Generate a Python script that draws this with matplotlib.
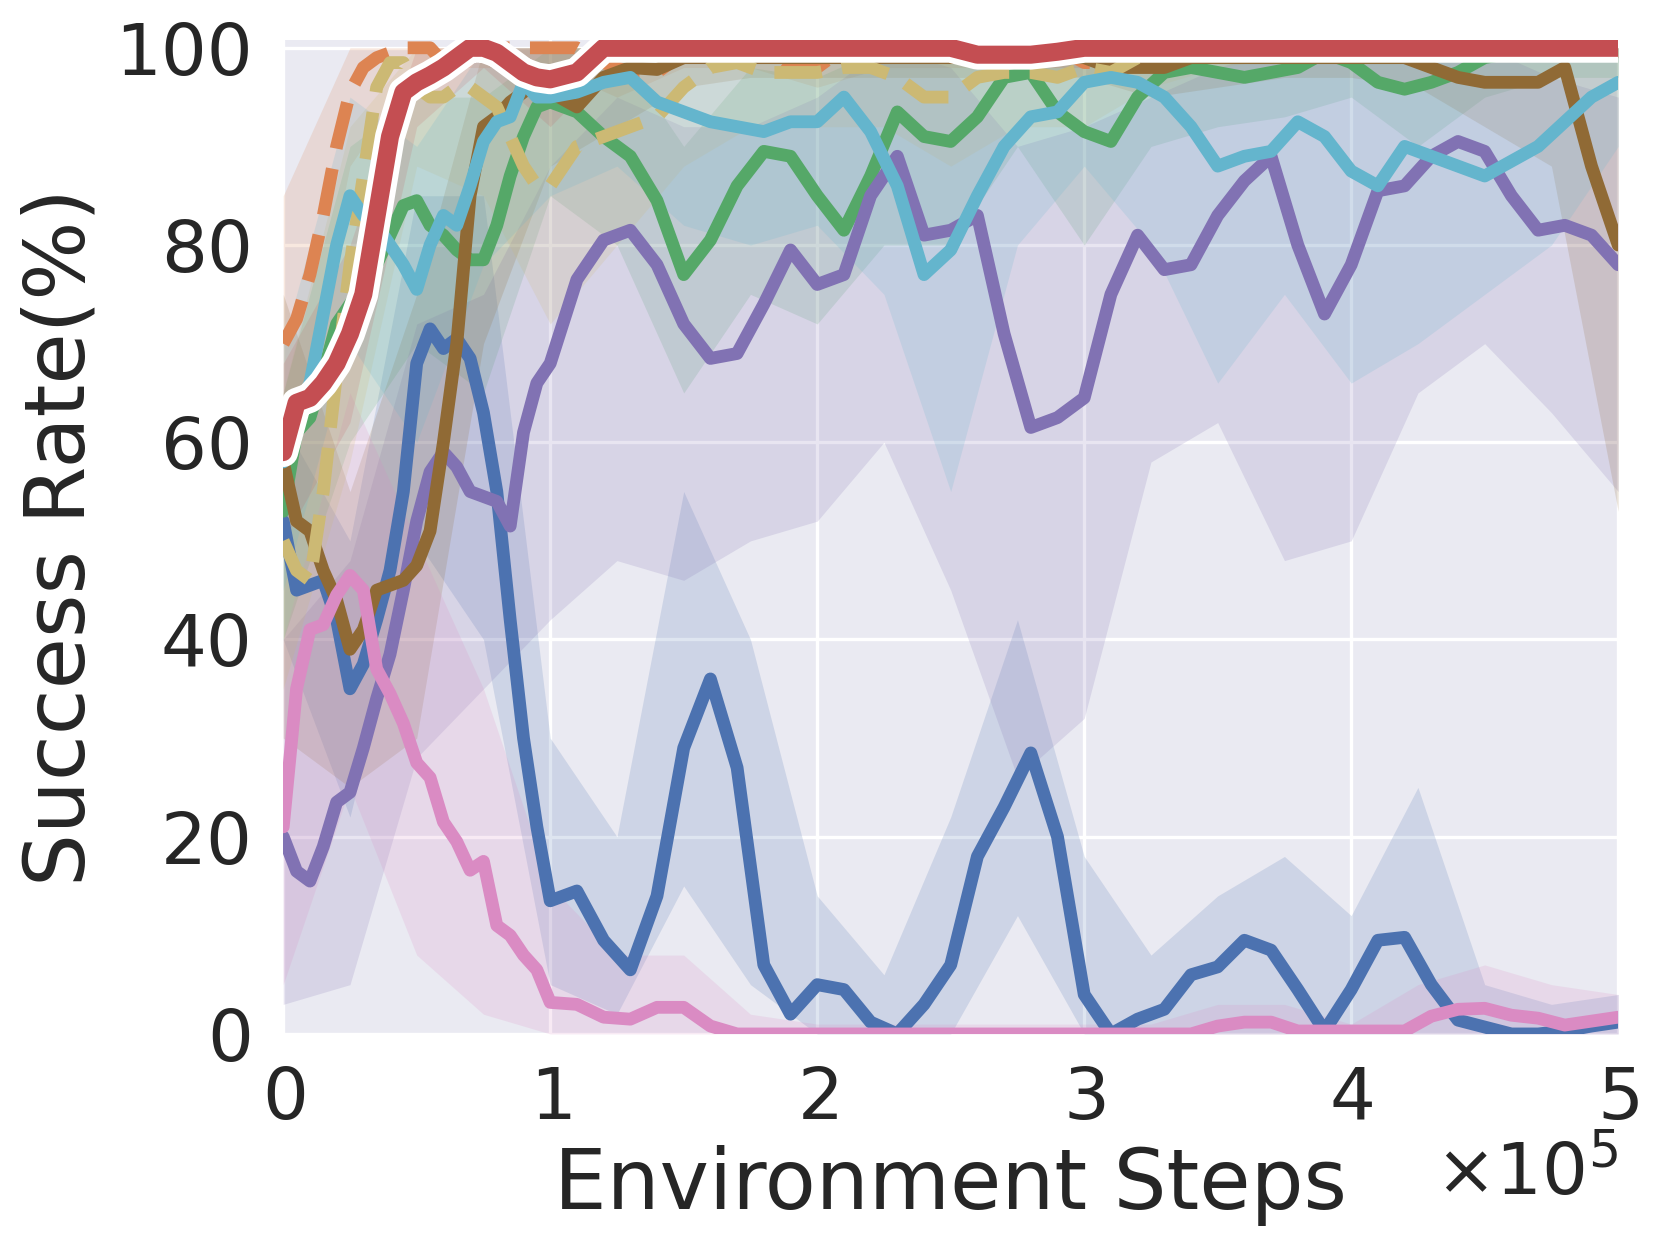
import numpy as np
import matplotlib
matplotlib.use('Agg')
import matplotlib.pyplot as plt
import matplotlib.patheffects as pe

plt.style.use('seaborn-v0_8-darkgrid')
plt.rcParams['font.family'] = 'DejaVu Sans'
plt.rcParams['text.color'] = '#262626'
plt.rcParams['axes.labelcolor'] = '#262626'
plt.rcParams['xtick.color'] = '#262626'
plt.rcParams['ytick.color'] = '#262626'
plt.rcParams['lines.solid_joinstyle'] = 'round'
plt.rcParams['lines.dash_joinstyle'] = 'round'

# x grid: 5k steps up to 1e5, then 10k steps
steps = np.concatenate([np.arange(0, 100000, 5000), np.arange(100000, 500001, 10000)])
band_steps = np.arange(0, 500001, 25000)

red = [59, 64, 64.5, 66, 68, 71, 75, 83, 91, 95.5,
       96.5, 97.2, 98, 99, 100, 100, 99.5, 98.5, 97.5, 97,
       96.8, 97.5, 100, 100, 100, 100, 100, 100, 100, 100,
       100, 100, 100, 100, 100, 100, 99.3, 99.3, 99.3, 99.6,
       100, 100, 100, 100, 100, 100, 100, 100, 100, 100,
       100, 100, 100, 100, 100, 100, 100, 100, 100, 100,
       100]
orange = [70, 72.5, 77, 83, 90, 95.5, 98, 99, 99.5, 100,
          100, 100, 98.5, 98.5, 100, 100, 100, 100, 100, 100,
          100, 100, 98.5, 97.5, 97.5, 99.5, 100, 100, 100, 98,
          98, 100, 100, 100, 100, 100, 100, 100, 100, 100,
          98.5, 98.5, 100, 100, 100, 100, 100, 100, 100, 100,
          100, 100, 100, 100, 100, 100, 100, 100, 100, 100,
          100]
khaki = [50, 47, 46, 55, 67, 78, 87, 96, 98.5, 98.5,
         96, 95, 95, 96, 96, 95, 94, 91, 88, 86,
         86, 90, 91, 92, 93, 96, 98, 98.5, 97.5, 97.5,
         97.5, 98, 98, 97, 95, 95, 97, 97.5, 97.5, 97,
         98, 97.5, 99, 100, 100, 100, 100, 100, 100, 100,
         100, 100, 100, 100, 100, 100, 100, 100, 100, 100,
         100]
brown = [58, 52, 51, 47, 44, 39, 41, 45, 45.5, 46,
         47.5, 51, 60, 70, 85, 92, 93, 94.5, 95.5, 97.5,
         95.5, 94, 97, 98, 97.8, 99, 99, 99, 99, 99,
         99, 99, 99, 99, 99, 99, 99, 99, 99, 99,
         99, 98, 98, 98, 99, 99, 99, 99, 99, 99,
         99, 99, 99, 98, 97, 96.5, 96.5, 96.5, 98, 88,
         80]
green = [53, 61, 62.5, 67, 72, 74, 76, 78, 81, 84,
         84.5, 82, 81, 79.5, 78.5, 78.5, 82, 87, 91, 94,
         94.5, 93.5, 91, 89, 84.5, 77, 80.5, 86, 89.5, 89,
         85, 81.5, 87, 93.5, 91, 90.5, 93, 97, 97.5, 93.5,
         91.5, 90.5, 95, 97.5, 98, 97.5, 97, 97.5, 98, 99.5,
         98.5, 96.5, 95.8, 96.5, 97.5, 99, 99.5, 99.5, 99.5, 99.5,
         99.5]
cyan = [58, 63, 66, 73, 80, 85, 83, 82, 80, 78,
        75.5, 80, 83, 82, 86, 90.5, 92.5, 93, 96.5, 95,
        95, 95.5, 96.5, 97, 94.5, 93.5, 92.5, 92, 91.5, 92.5,
        92.5, 95, 91.5, 86, 77, 79.5, 85, 90, 93, 93.5,
        96.5, 97, 96.5, 95, 92, 88, 89, 89.5, 92.5, 91,
        87.5, 86, 90, 89, 88, 87, 88.5, 90, 92.5, 95,
        96.5]
purple = [20, 16.5, 15.5, 19, 23.5, 24.5, 29, 34, 38.5, 45,
          52, 57, 59, 57.5, 55, 54.5, 54, 51.5, 61, 66,
          68, 76.5, 80.5, 81.5, 78, 72, 68.5, 69, 74, 79.5,
          76, 77, 85, 89, 81, 81.5, 83, 71, 61.5, 62.5,
          64.5, 75, 81, 77.5, 78, 83, 86.5, 89, 80, 73,
          78, 85.5, 86, 89, 90.5, 89.5, 85, 81.5, 82, 81,
          78]
blue = [52, 45, 45.5, 46, 42, 35, 37.5, 42, 47, 55,
        68, 71.5, 69.5, 70.5, 68.5, 63, 55, 42, 30, 21,
        13.5, 14.5, 9.5, 6.5, 14, 29, 36, 27, 7, 2,
        5, 4.5, 1.2, 0, 3, 7, 18, 23, 28.5, 20,
        4, 0, 1.5, 2.5, 6, 6.8, 9.5, 8.5, 4.5, 0.3,
        4.5, 9.5, 9.8, 5, 1.4, 0.7, 0, 0, 0.3, 0.8,
        1.2]
pink = [21, 35, 41, 41.5, 44.5, 46.5, 45, 37, 34.5, 31.5,
        27.5, 26, 21.5, 19.5, 16.6, 17.5, 11, 10, 8, 6.5,
        3.2, 3, 1.7, 1.5, 2.7, 2.7, 0.8, 0, 0, 0,
        0, 0, 0, 0, 0, 0, 0, 0, 0, 0,
        0, 0, 0, 0, 0, 0.8, 1.2, 1.2, 0.3, 0.3,
        0.3, 0.3, 0.3, 1.8, 2.5, 2.6, 1.9, 1.6, 0.9, 1.3,
        1.7]

# shaded bands (every 25k steps)
red_lo = [50, 62, 92, 98, 92, 99, 99, 99, 99, 99, 99, 98, 98, 99, 99, 99, 99, 99, 99, 99, 99]
red_hi = [68, 80, 100, 100, 100, 100, 100, 100, 100, 100, 100, 100, 100, 100, 100, 100, 100, 100, 100, 100, 100]
orange_lo = [55, 88, 98, 98, 98, 95, 98, 98, 96, 98, 98, 98, 97, 98, 99, 99, 99, 99, 99, 99, 99]
orange_hi = [85, 100, 100, 100, 100, 100, 100, 100, 100, 100, 100, 100, 100, 100, 100, 100, 100, 100, 100, 100, 100]
khaki_lo = [35, 58, 88, 85, 72, 80, 88, 92, 92, 92, 88, 92, 92, 96, 98, 99, 99, 99, 99, 99, 99]
khaki_hi = [65, 92, 100, 100, 100, 100, 100, 100, 100, 100, 100, 100, 100, 100, 100, 100, 100, 100, 100, 100, 100]
brown_lo = [30, 25, 30, 70, 88, 92, 96, 97, 97, 97, 97, 97, 97, 95, 96, 97, 97, 96, 92, 88, 53]
brown_hi = [75, 55, 75, 100, 100, 100, 100, 100, 100, 100, 100, 100, 100, 100, 100, 100, 100, 100, 100, 100, 100]
green_lo = [40, 60, 70, 65, 85, 80, 65, 75, 72, 80, 80, 90, 80, 90, 92, 93, 95, 90, 95, 97, 97]
green_hi = [65, 90, 95, 95, 100, 100, 90, 98, 97, 100, 100, 100, 100, 100, 100, 100, 100, 100, 100, 100, 100]
cyan_lo = [45, 70, 60, 78, 85, 88, 82, 80, 82, 75, 55, 80, 88, 80, 66, 75, 66, 70, 75, 80, 90]
cyan_hi = [70, 95, 90, 100, 100, 100, 100, 100, 100, 100, 100, 100, 100, 100, 100, 100, 100, 100, 100, 100, 100]
purple_lo = [3, 5, 28, 35, 42, 48, 46, 50, 52, 60, 45, 26, 32, 58, 62, 48, 50, 65, 70, 63, 55]
purple_hi = [40, 48, 72, 75, 88, 95, 92, 92, 95, 100, 98, 90, 92, 95, 98, 100, 98, 100, 100, 97, 95]
blue_lo = [40, 22, 50, 40, 5, 2, 15, 5, 0, 0, 0, 12, 0, 0, 0, 0, 0, 0, 0, 0, 0]
blue_hi = [62, 50, 85, 85, 30, 20, 55, 40, 14, 6, 22, 42, 18, 8, 14, 18, 12, 25, 5, 3, 4]
pink_lo = [5, 25, 8, 2, 0, 0, 0, 0, 0, 0, 0, 0, 0, 0, 0, 0, 0, 0, 0, 0, 0]
pink_hi = [40, 65, 50, 35, 15, 8, 8, 2, 1, 1, 1, 1, 1, 1, 3, 3, 1, 5, 7, 5, 4]

series = [
    (blue, blue_lo, blue_hi, '#4C72B0', '-'),
    (orange, orange_lo, orange_hi, '#DD8452', '--'),
    (green, green_lo, green_hi, '#55A868', '-'),
    (purple, purple_lo, purple_hi, '#8172B3', '-'),
    (brown, brown_lo, brown_hi, '#906A35', '-'),
    (pink, pink_lo, pink_hi, '#DA8BC3', '-'),
    (khaki, khaki_lo, khaki_hi, '#CCB974', '--'),
    (cyan, cyan_lo, cyan_hi, '#64B5CD', '-'),
]

fig = plt.figure(figsize=(16.66, 12.51), dpi=100)
ax = fig.add_axes([0.170, 0.1735, 0.8013, 0.7946])
ax.set_facecolor('#EAEAF2')

for vals, lo, hi, c, ls in series:
    ax.fill_between(band_steps, lo, hi, color=c, alpha=0.18, linewidth=0)
ax.fill_between(band_steps, red_lo, red_hi, color='#C44E52', alpha=0.15, linewidth=0)

for vals, lo, hi, c, ls in series:
    ax.plot(steps, vals, color=c, linestyle=ls, linewidth=9.2)

ax.plot(steps, red, color='#C44E52', linewidth=13,
        path_effects=[pe.Stroke(linewidth=21.5, foreground='white'), pe.Normal()])

ax.set_xlim(0, 500000)
ax.set_ylim(0, 100.8)
ax.set_yticks([0, 20, 40, 60, 80, 100])
ax.set_xticks([0, 100000, 200000, 300000, 400000, 500000])
ax.ticklabel_format(axis='x', style='sci', scilimits=(0, 0), useMathText=True)
ax.xaxis.get_offset_text().set_fontsize(52)
ax.grid(True, color='white', linewidth=2.4)
ax.set_axisbelow(True)
for s in ax.spines.values():
    s.set_visible(False)
ax.tick_params(axis='both', labelsize=52, length=0, pad=22)

ax.set_xlabel('Environment Steps', fontsize=60, labelpad=8)
ax.set_ylabel('Success Rate(%)', fontsize=60, labelpad=10)

fig.savefig('out.png', dpi=100, facecolor='white')
